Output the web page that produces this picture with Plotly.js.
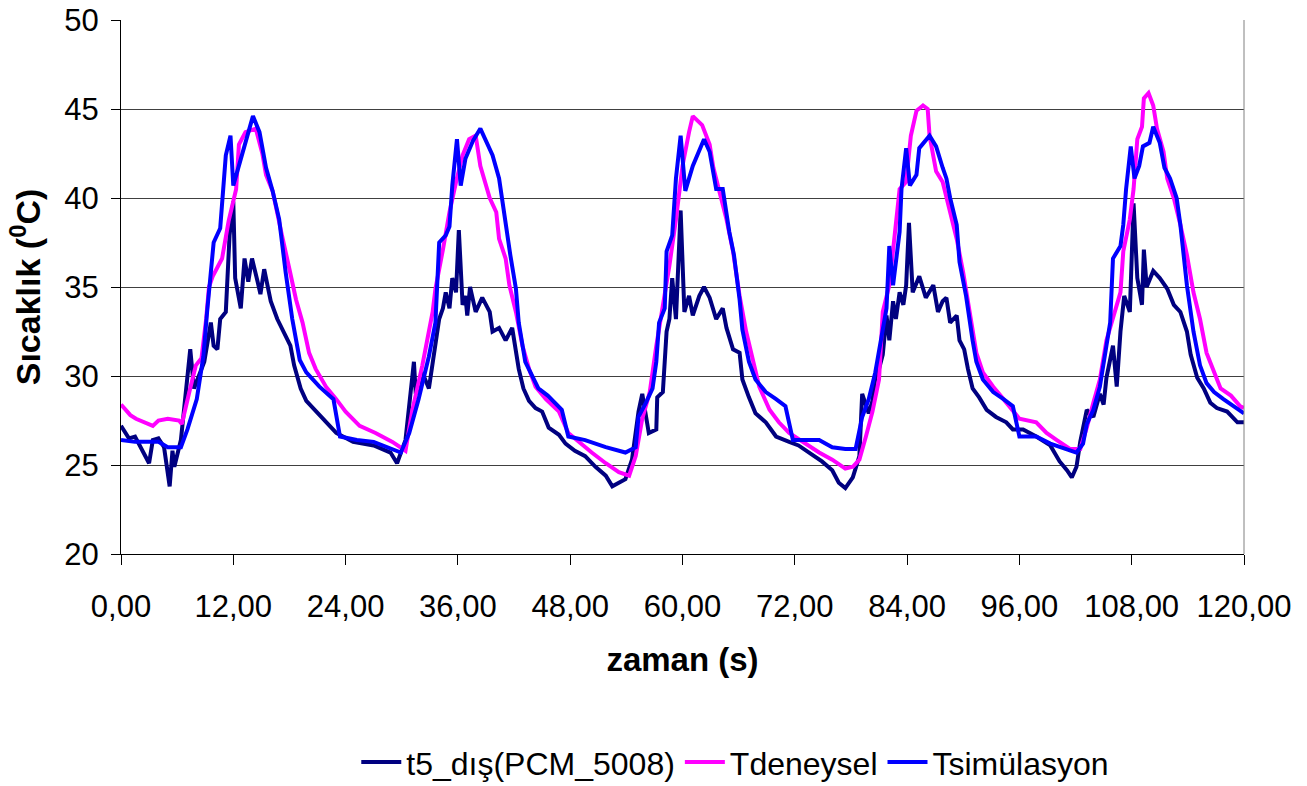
<!DOCTYPE html>
<html>
<head>
<meta charset="utf-8">
<script src="https://cdn.plot.ly/plotly-3.0.1.min.js"></script>
<style>html,body{margin:0;padding:0;background:#fff;}#chart{width:1307px;height:786px;}</style>
</head>
<body>
<div id="chart"></div>
<script>
const seriesNames = ['t5_dış(PCM_5008)', 'Tdeneysel', 'Tsimülasyon'];
const xTickVals = [0, 12, 24, 36, 48, 60, 72, 84, 96, 108, 120];
const xTickText = ['0,00', '12,00', '24,00', '36,00', '48,00', '60,00', '72,00', '84,00', '96,00', '108,00', '120,00'];
const yTickVals = [20, 25, 30, 35, 40, 45, 50];

const t5X = [0,0.85,1.5,2.3,3,3.4,4,4.6,5.2,5.5,5.7,6.4,7.1,7.4,7.8,8.9,9.6,9.9,10.3,10.6,11.2,11.6,12,12.2,12.8,13.2,13.6,14,14.6,14.9,15.3,16,16.7,17.4,18.1,18.5,19.2,19.8,20.9,22,23,24.8,27,28.8,29.5,30.4,30.9,31.3,31.5,32.2,32.9,33.3,33.6,34,34.4,34.7,35.1,35.4,35.8,36.1,36.5,36.8,37,37.3,37.9,38.6,39.4,39.7,40.4,41.1,41.8,42.2,42.5,43,43.6,44.3,45,45.7,46.8,47.5,48.5,49.6,50.7,51.8,52.5,53.2,53.9,54.6,55.3,55.7,56.4,57.2,57.3,57.9,58.3,58.6,58.9,59.3,59.8,60.2,60.7,61.1,61.8,62.3,62.9,63.6,64.3,64.7,65.4,66.1,66.4,67.1,67.8,68.9,70,71.4,72.4,73.8,74.9,76,76.7,77.4,78.2,78.9,79.2,79.9,80.3,80.6,81,81.4,81.8,82.1,82.5,82.8,83.2,83.6,83.9,84.2,84.6,85.3,86,86.8,87.3,87.8,88.2,88.6,89.3,89.6,90.1,90.5,91,91.7,92.5,93.5,94.6,95.3,96.4,97.8,99.3,100.3,101.1,101.6,102.1,102.5,103.2,103.9,104.6,105,105.3,106,106.4,106.8,107.2,107.8,108.2,108.6,109.1,109.3,109.6,110.3,111,111.8,112.5,113.2,113.9,114.3,115,115.7,116.4,117.1,118.2,119.3,120];
const t5Y = [27.2,26.5,26.6,25.8,25.1,26.4,26.5,26.0,23.8,25.8,24.9,26.4,29.8,31.5,29.3,30.8,33,31.7,31.5,33.2,33.6,37.9,39.8,35.5,33.8,36.6,35.3,36.6,35.3,34.6,36,34.2,33.2,32.4,31.7,30.6,29.3,28.6,28,27.4,26.8,26.3,26.1,25.7,25.1,26.4,28.7,30.8,29.0,30.2,29.3,30.8,32.1,33.2,33.8,34.7,33.8,35.5,34.7,38.2,34,34.5,33.4,35,33.6,34.4,33.6,32.5,32.7,32,32.7,31.2,30.4,29.3,28.6,28.2,28,27.1,26.7,26.2,25.8,25.5,24.9,24.4,23.8,24.0,24.2,25.3,28,29,26.8,27,28.8,29.1,32.5,33.2,35.5,33.2,39.3,33.6,34.5,33.4,34.5,35,34.4,33.2,33.8,32.7,31.5,31.3,29.8,28.8,27.9,27.4,26.6,26.3,26.1,25.6,25.2,24.7,24,23.7,24.3,25.5,29,27.9,28.6,29.9,30.4,31.2,33.4,32,34.2,33.2,34.7,34,35.1,38.6,34.7,35.6,34.4,35.1,33.6,34.2,34.4,33,33.4,32,31.5,30.4,29.3,28.8,28.1,27.7,27.4,27,27,26.6,26.1,25.2,24.7,24.3,24.9,26.3,28.1,27.7,29,28.4,29.9,31.7,29.4,32.5,34.5,33.6,39.7,35.5,34,37.1,35,35.9,35.5,34.9,34,33.6,32.5,31.2,29.9,29.3,28.5,28.2,28,27.4,27.4];

const tdenX = [0,1,1.6,2.5,3.4,4,5,6.2,6.5,7.3,8,8.6,9.1,9.4,9.8,10.8,11.5,12.3,12.6,13.3,14.4,15.1,15.5,16.2,16.5,17.2,18,18.7,19.4,20.1,20.8,21.9,23,24,25.5,27.2,29,30.4,31.1,32.2,33.3,33.6,34.4,35.1,35.8,36.5,37.2,37.9,38.4,39.4,40.1,40.4,41.1,41.5,42.2,42.9,43.6,44.3,45.4,46.8,47.8,48.9,50.3,51.8,53.2,54.3,55,55.7,56.5,57.2,57.9,58.6,59.3,60,60.7,61.1,62.1,62.9,63.3,64,64.7,65.4,66.1,66.8,67.5,68.2,69.3,70.3,71.4,72.8,74.6,76,77.4,78.2,78.9,79.6,80.3,81,81.4,82.1,82.5,82.8,83.2,83.9,84.4,85,85.7,86.2,86.4,87.1,87.8,88.6,89.3,90,90.7,91.4,92.1,93.2,94.3,95.3,96,97.8,98.9,100,101.4,102.5,103.2,103.9,104.6,105.3,106,106.8,107.1,107.8,108.2,108.6,109.1,109.3,109.8,110.3,110.7,111.4,111.8,112.5,113.2,113.9,114.6,115.3,116,116.8,117.5,118.6,119.6,120];
const tdenY = [28.4,27.8,27.6,27.4,27.2,27.5,27.6,27.5,27.3,29.1,30.6,31.0,33.2,35,35.6,36.6,38.7,40.5,43,43.7,43.9,42.5,41.3,40.4,39.6,37.9,36,34.3,33,31.3,30.4,29.4,28.7,28,27.2,26.8,26.3,25.8,28,30.6,33.6,34.9,37.1,39.2,40.9,42.4,43.3,43.5,41.8,40,39.2,37.7,36.6,35.1,33.6,31.7,30.4,29.4,28.7,28,26.8,26.3,25.7,25.1,24.6,24.4,25.5,27.6,29.1,31.7,33.9,36.2,38.8,41.8,43.7,44.6,44.1,43,41.7,40.2,38.8,37,34.5,32.5,30.9,29.4,28.1,27.4,26.8,26.3,25.7,25.3,24.8,24.9,25.3,26.6,28,29.8,33.6,35.1,37,38.1,40.5,40.9,43.5,44.9,45.2,45,43.5,41.5,40.9,39.2,37.7,35.8,33.6,31.3,30.2,29.4,28.7,28.1,27.6,27.4,26.8,26.4,25.9,25.9,27.1,28.5,29.8,32,33.2,34.7,37,38.8,40.5,43.3,44,45.6,45.9,45.2,43.9,42.6,41.1,40,38.5,36.8,34.7,33.2,31.3,30.2,29.3,28.9,28.3,28.2];

const tsimX = [0,1.5,4,5,6.4,7.1,8.1,8.8,9.2,9.9,10.6,11.2,11.7,12,12.7,13.4,14.1,14.8,15.5,16.2,16.9,17.6,18.3,19.1,19.8,21.2,22.7,23.4,25.2,27,28.8,29.9,30.8,31.8,32.9,33.6,34,34.7,35.1,35.4,35.9,36.3,36.8,37.6,38.4,39,39.7,40.4,41.1,41.6,42.2,42.5,43.2,43.9,44.6,45.6,47.1,47.8,49.6,51.8,53.9,55,55.3,56.1,56.8,57.2,57.5,58.1,58.3,58.9,59.3,59.8,60.3,61.1,61.8,62.3,62.9,63.6,64.3,65,65.5,66.1,66.4,67.1,67.8,68.9,70,71,71.8,74.6,76,77.4,78.5,79.2,79.9,80.6,81.4,81.8,82.1,82.5,83.2,83.4,83.9,84.3,85,85.3,86.4,87.1,87.8,88.2,88.6,89.3,89.6,90.3,91,91.4,92.1,93.2,94.3,95.3,96,97.8,99.3,101.1,102.1,102.8,103.2,103.9,104.6,105.3,105.7,106,106.8,107.1,107.4,107.9,108.3,108.8,109.2,109.9,110.3,111,111.5,112.1,112.8,113.2,113.9,114.6,115.3,116,116.8,117.8,118.9,119.6,120];
const tsimY = [26.4,26.3,26.3,26,26,27,28.7,31.1,33.6,37.5,38.3,42.4,43.5,40.7,42,43.3,44.6,43.7,41.7,40.4,38.8,35.8,33.2,30.9,30.2,29.4,28.7,26.6,26.4,26.3,25.9,25.7,26.8,28.7,31.1,33,37.5,37.9,38.4,40.7,43.3,40.7,42.2,43.2,43.9,43.2,42.4,41.1,38.4,36.8,34.9,33,30.8,30,29.3,28.9,28.1,26.6,26.4,26,25.7,26,27.7,28.5,29.3,30.8,33,33.8,37,37.9,41.1,43.5,40.4,41.8,42.6,43.3,42.6,40.5,40.5,38.1,36.8,34.3,32.6,30.8,29.8,29.1,28.7,28.3,26.4,26.4,26,25.9,25.9,27.7,28.7,30.2,32.6,33.8,37.3,35.1,38.1,40.5,42.8,40.7,41.3,42.8,43.5,42.9,41.7,41.1,40,38.5,36.4,34.5,32,30.8,29.8,29.1,28.7,28.3,26.6,26.6,26.2,25.9,25.7,26.2,27.3,28.1,29.4,31.7,33,36.6,37.3,38.5,40.5,42.9,41.1,41.8,42.9,43.1,44,43.1,41.7,41.1,40,38.5,35.1,32.5,30.6,29.6,29.1,28.7,28.3,28,27.9];

const colors = ['#000080', '#FF00FF', '#0000FF'];
const xs = [t5X, tdenX, tsimX];
const ys = [t5Y, tdenY, tsimY];

const traces = seriesNames.map((name, i) => ({
  type: 'scatter',
  mode: 'lines',
  name: name,
  x: xs[i],
  y: ys[i],
  line: {color: colors[i], width: 4},
  hoverinfo: 'skip'
}));

const FONT = 'Liberation Sans, Arial, sans-serif';

const layout = {
  width: 1307,
  height: 786,
  margin: {l: 121, r: 63, t: 20, b: 232, autoexpand: false},
  paper_bgcolor: '#ffffff',
  plot_bgcolor: '#ffffff',
  font: {family: FONT, size: 30, color: '#000'},
  showlegend: true,
  legend: {
    orientation: 'h',
    x: 0.547, xanchor: 'center',
    y: -0.39, yanchor: 'middle',
    font: {family: FONT, size: 32, color: '#000'},
    itemwidth: 40,
    tracegroupgap: 0
  },
  xaxis: {
    range: [0, 120],
    automargin: false,
    tickvals: xTickVals,
    ticktext: xTickText,
    ticks: 'outside',
    ticklen: 10,
    tickcolor: '#000',
    tickwidth: 1,
    showline: true,
    linecolor: '#000',
    linewidth: 1,
    showgrid: false,
    zeroline: false,
    ticklabelstandoff: 15,
    tickfont: {family: FONT, size: 31, color: '#000'},
    title: {text: '<b>zaman (s)</b>', font: {family: FONT, size: 33, color: '#000'}, standoff: 24}
  },
  yaxis: {
    range: [20, 50],
    automargin: false,
    tickvals: yTickVals,
    ticks: 'outside',
    ticklen: 9,
    tickcolor: '#000',
    tickwidth: 1,
    showline: true,
    linecolor: '#000',
    linewidth: 1,
    showgrid: true,
    gridcolor: '#404040',
    gridwidth: 1,
    zeroline: false,
    ticklabelstandoff: 6,
    tickfont: {family: FONT, size: 31, color: '#000'},
    title: {text: '<b>Sıcaklık (<sup>0</sup>C)</b>', font: {family: FONT, size: 34, color: '#000'}, standoff: 13}
  },
  shapes: [
    {type: 'line', xref: 'paper', yref: 'paper', x0: 1, x1: 1, y0: 0, y1: 1, line: {color: '#808080', width: 1}}
  ]
};

Plotly.newPlot('chart', traces, layout, {displayModeBar: false, staticPlot: true});
</script>
</body>
</html>
